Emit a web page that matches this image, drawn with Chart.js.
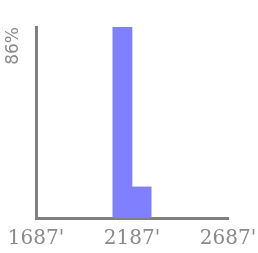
<!DOCTYPE html>
<html>
<head>
<meta charset="utf-8">
<script src="https://cdn.jsdelivr.net/npm/chart.js@4"></script>
<style>
  html, body { margin: 0; padding: 0; background: #fff; }
  canvas { display: block; }
</style>
</head>
<body>
<canvas id="chart" width="258" height="253"></canvas>
<script>
// Histogram bins (centre of each 100-wide bin) and their share
const binCenters = [2137, 2237];
const shares = [0.86, 0.14];

// Tick values shown on the axes
const xTicks = [1687, 2187, 2687];
const yTicks = [0.86];

const axisGray = '#808080';
const textGray = '#8a8a8a';

// no automatic room for overflowing tick labels, the layout padding does it
const noPad = s => { s.paddingLeft = s.paddingRight = s.paddingTop = s.paddingBottom = 0; };

new Chart(document.getElementById('chart'), {
  type: 'bar',
  data: {
    datasets: [{
      data: binCenters.map((x, i) => ({ x, y: shares[i] })),
      backgroundColor: '#8080ff',
      borderWidth: 0,
      barPercentage: 1,
      categoryPercentage: 1
    }]
  },
  options: {
    responsive: false,
    animation: false,
    layout: { padding: { top: 27, right: 30, left: 0, bottom: 0 } },
    plugins: { legend: { display: false }, tooltip: { enabled: false } },
    scales: {
      x: {
        type: 'linear',
        offset: false,
        min: xTicks[0],
        max: xTicks[xTicks.length - 1],
        afterBuildTicks: s => { s.ticks = xTicks.map(v => ({ value: v })); },
        afterFit: s => { s.height = 35; noPad(s); },
        grid: { display: false, drawTicks: false },
        border: { display: true, color: axisGray, width: 3 },
        ticks: {
          padding: 9,
          maxRotation: 0,
          autoSkip: false,
          color: textGray,
          font: { family: "'DejaVu Serif', serif", size: 20 },
          callback: v => v + "'"
        }
      },
      y: {
        min: 0,
        max: 0.86,
        afterBuildTicks: s => { s.ticks = yTicks.map(v => ({ value: v })); },
        afterFit: s => { s.width = 36; noPad(s); },
        grid: { display: false, drawTicks: false },
        border: { display: true, color: axisGray, width: 3 },
        ticks: {
          padding: 22,
          minRotation: 90,
          maxRotation: 90,
          color: textGray,
          font: { family: "'DejaVu Sans', sans-serif", size: 17 },
          callback: v => Math.round(v * 100) + '%'
        }
      }
    }
  }
});
</script>
</body>
</html>
